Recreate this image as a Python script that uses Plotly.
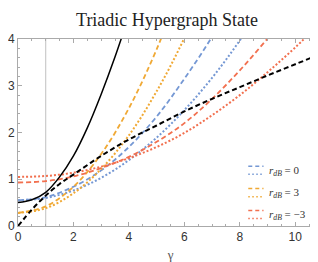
import plotly.graph_objects as go

# ---------------- data ----------------
gamma_black_solid = [0, 0.5, 1, 1.5, 2, 2.5, 3, 3.5, 4]
black_solid = [0.50, 0.56, 0.72, 1.05, 1.50, 2.10, 2.82, 3.62, 4.5]

gamma_black_dash = [0, 0.5, 1, 1.5, 2, 3, 4, 5, 6, 7, 8, 9, 10, 11]
black_dash = [0, 0.35, 0.65, 0.9, 1.1, 1.5, 1.85, 2.15, 2.45, 2.72, 2.97, 3.22, 3.46, 3.70]

gamma_c = [0, 1, 2, 3, 4, 5, 6, 7, 8, 9, 10, 11]
blue_dash = [0.55, 0.62, 0.84, 1.19, 1.69, 2.34, 3.15, 4.05, 5.12]
blue_dot = [0.55, 0.60, 0.76, 1.03, 1.41, 1.89, 2.48, 3.17, 3.97, 4.88]
orange_dash = [0.28, 0.42, 0.84, 1.54, 2.52, 3.78, 5.32]
orange_dot = [0.28, 0.38, 0.70, 1.22, 1.94, 2.88, 4.02, 5.38]
red_dash = [0.93, 0.96, 1.06, 1.24, 1.48, 1.80, 2.20, 2.72, 3.33, 4.01, 4.73]
red_dot = [1.05, 1.07, 1.14, 1.27, 1.45, 1.69, 1.99, 2.37, 2.80, 3.29, 3.82, 4.40]

legend_labels = ["r<sub>dB</sub> = 0", "r<sub>dB</sub> = 3", "r<sub>dB</sub> = \u22123"]
vline_gamma = 1

x_ticks = [0, 2, 4, 6, 8, 10]
y_ticks = [0, 1, 2, 3, 4]

BLUE = "#7598d4"
ORANGE = "#f0a935"
RED = "#f2704f"

DASH = "5px,3px"
DOT = "2px,2px"

fig = go.Figure()

def add(x, y, color, dash, width):
    fig.add_trace(go.Scatter(x=x[:len(y)], y=y, mode="lines",
                             line=dict(color=color, dash=dash, width=width, shape="spline"),
                             showlegend=False, hoverinfo="skip"))

add(gamma_c, blue_dash, BLUE, DASH, 1.8)
add(gamma_c, blue_dot, BLUE, DOT, 2)
add(gamma_c, orange_dash, ORANGE, DASH, 1.8)
add(gamma_c, orange_dot, ORANGE, DOT, 2)
add(gamma_c, red_dash, RED, DASH, 1.8)
add(gamma_c, red_dot, RED, DOT, 2)
add(gamma_black_solid, black_solid, "black", "solid", 1.5)
add(gamma_black_dash, black_dash, "black", "5px,3px", 2)

fig.add_shape(type="line", x0=vline_gamma, x1=vline_gamma, y0=0, y1=4, xref="x", yref="y",
              line=dict(color="#c0c0c0", width=1), layer="below")

# manual legend
leg_y = [0.295, 0.175, 0.058]
for lab, col, yy in zip(legend_labels, [BLUE, ORANGE, RED], leg_y):
    fig.add_shape(type="line", xref="paper", yref="paper", x0=0.755, x1=0.805, y0=yy + 0.025, y1=yy + 0.025,
                  line=dict(color=col, width=1.5, dash="4px,3px"))
    fig.add_shape(type="line", xref="paper", yref="paper", x0=0.755, x1=0.805, y0=yy - 0.018, y1=yy - 0.018,
                  line=dict(color=col, width=1.5, dash="1.5px,2.5px"))
    fig.add_annotation(xref="paper", yref="paper", x=0.82, y=yy,
                       text="<i>" + lab.replace("<sub>dB</sub>", "</i><sub><i>dB</i></sub>"),
                       showarrow=False, xanchor="left", yanchor="middle", borderpad=0,
                       font=dict(family="Liberation Serif", size=11, color="#333333"))

axis_common = dict(showgrid=False, zeroline=False, showline=True, linecolor="#aaaaaa", linewidth=1,
                   mirror="ticks", ticks="inside", ticklen=4, tickcolor="#aaaaaa",
                   tickfont=dict(family="Liberation Sans", size=12, color="#333333"))

fig.update_xaxes(range=[0, 11], tickvals=x_ticks,
                 minor=dict(dtick=0.5, ticklen=2, tickcolor="#aaaaaa", ticks="inside"),
                 title=dict(text="\u03b3", font=dict(family="Liberation Serif", size=13, color="#555555"), standoff=6),
                 **axis_common)
fig.update_yaxes(range=[0, 4], tickvals=y_ticks,
                 minor=dict(dtick=0.2, ticklen=2, tickcolor="#aaaaaa", ticks="inside"),
                 **axis_common)

fig.update_layout(
    width=318, height=262,
    margin=dict(l=10, r=3, t=31, b=44),
    paper_bgcolor="white", plot_bgcolor="white",
    title=dict(text="Triadic Hypergraph State", x=0.5, xanchor="center", y=0.955, yanchor="middle",
               font=dict(family="Liberation Serif", size=18, color="#222222")),
)
fig.update_xaxes(automargin=False)
fig.update_yaxes(automargin=False)

fig.write_html("out.html")
